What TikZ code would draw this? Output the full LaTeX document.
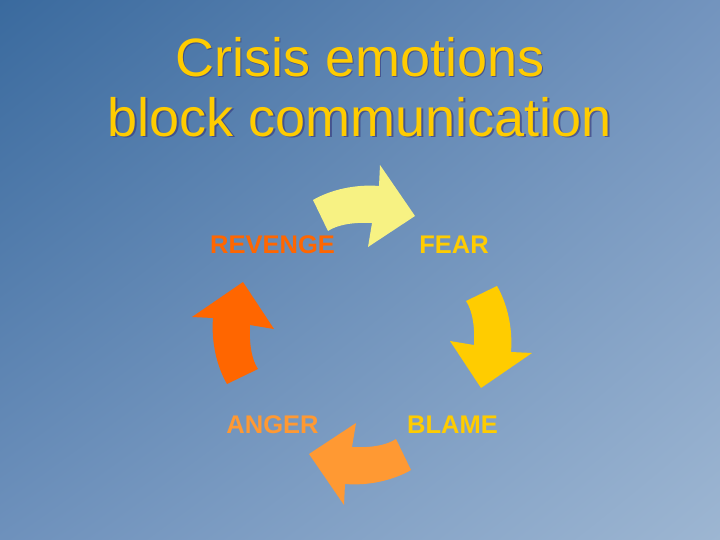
\documentclass[tikz,border=0pt]{standalone}
\usepackage{fontspec}
\setmainfont{Liberation Sans}
\usetikzlibrary{shadings}
\definecolor{bgTL}{HTML}{3A6A9E}
\definecolor{bgTR}{HTML}{7394BE}
\definecolor{bgBL}{HTML}{6E91BC}
\definecolor{bgBR}{HTML}{9DB6D2}
\definecolor{titleyellow}{HTML}{FFCC00}
\definecolor{paleyellow}{HTML}{F7F283}
\definecolor{gold}{HTML}{FFCC00}
\definecolor{lightorange}{HTML}{FF9933}
\definecolor{darkorange}{HTML}{FF6600}
\newcommand\cyclearrow[1]{%
  \fill[#1] (313,200) .. controls (330,190) and (355,184) .. (379,186)
    -- (380,165) -- (415,216) -- (368,247) -- (372,223)
    .. controls (352,222) and (337,225) .. (328,231) -- cycle;}
\tikzset{
  titletext/.style={font=\fontsize{54}{60}\selectfont, align=center, text=titleyellow, inner sep=0pt},
  titleshadow/.style={titletext, text=black!55!blue!60!gray, opacity=0.6},
  emolabel/.style={font=\fontsize{25.5}{28}\selectfont\bfseries, inner sep=0pt}
}
\begin{document}
\begin{tikzpicture}[x=1pt,y=-1pt]
\useasboundingbox (0,0) rectangle (720,540);
\shade[upper left=bgTL, upper right=bgTR, lower left=bgBL, lower right=bgBR] (0,0) rectangle (720,540);
% title
\node[titleshadow] (titleshadow) at (361.5,88.5) {Crisis emotions\\block communication};
\node[titletext] (title) at (360,87) {Crisis emotions\\block communication};
% arrows
\cyclearrow{paleyellow}
\begin{scope}[rotate around={-90:(362,335)}]
  \cyclearrow{gold}
\end{scope}
\begin{scope}[rotate around={-180:(362,335)}]
  \cyclearrow{lightorange}
\end{scope}
\begin{scope}[rotate around={-270:(362,335)}]
  \cyclearrow{darkorange}
\end{scope}
% labels
\node[emolabel, text=darkorange] (revenge) at (272.5,245) {REVENGE};
\node[emolabel, text=gold] (fear) at (454,245) {FEAR};
\node[emolabel, text=lightorange] (anger) at (272.5,425) {ANGER};
\node[emolabel, text=gold] (blame) at (452.5,425) {BLAME};
\end{tikzpicture}
\end{document}
